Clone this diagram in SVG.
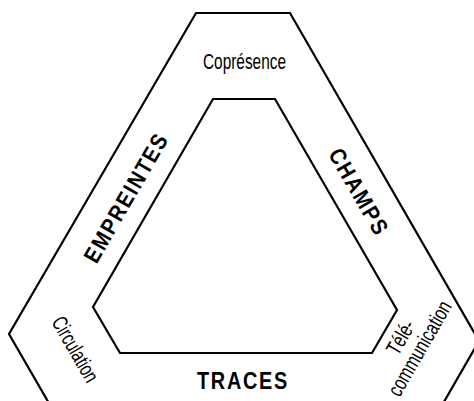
<svg xmlns="http://www.w3.org/2000/svg" width="474" height="401" viewBox="0 0 474 401">
<style>
.ln{fill:none;stroke:#000;stroke-width:2.2;stroke-linejoin:miter}
.lt{font-family:"Liberation Sans",Arial,sans-serif;font-size:21.5px;fill:#000;text-anchor:middle}
.bd{font-family:"Liberation Sans",Arial,sans-serif;font-size:23px;font-weight:bold;letter-spacing:2px;fill:#000;text-anchor:middle}
</style>
<rect width="474" height="401" fill="#fff"/>
<g id="connectors">
<polyline id="outer" class="ln" points="50,405 9,334 196,13 290,13 479,341 441,407"/>
<polygon id="inner" class="ln" points="213,99 275,99 397,310 372,353 120,353 93,307"/>
</g>
<g id="copresence"><text class="lt" x="244.5" y="69" textLength="83" lengthAdjust="spacingAndGlyphs">Coprésence</text></g>
<g id="circulation"><text class="lt" transform="translate(69,353) rotate(60)" textLength="72" lengthAdjust="spacingAndGlyphs">Circulation</text></g>
<g id="telecommunication">
<text class="lt" transform="translate(407,341) rotate(-60)" textLength="36" lengthAdjust="spacingAndGlyphs">Télé-</text>
<text class="lt" transform="translate(426,352) rotate(-60)" textLength="106" lengthAdjust="spacingAndGlyphs">communication</text>
</g>
<g id="empreintes"><text class="bd" transform="translate(133,201.5) rotate(-60)" textLength="146" lengthAdjust="spacingAndGlyphs">EMPREINTES</text></g>
<g id="champs"><text class="bd" transform="translate(352,196) rotate(60)" textLength="97" lengthAdjust="spacingAndGlyphs">CHAMPS</text></g>
<g id="traces"><text class="bd" x="243" y="389" textLength="92" lengthAdjust="spacingAndGlyphs">TRACES</text></g>
</svg>
